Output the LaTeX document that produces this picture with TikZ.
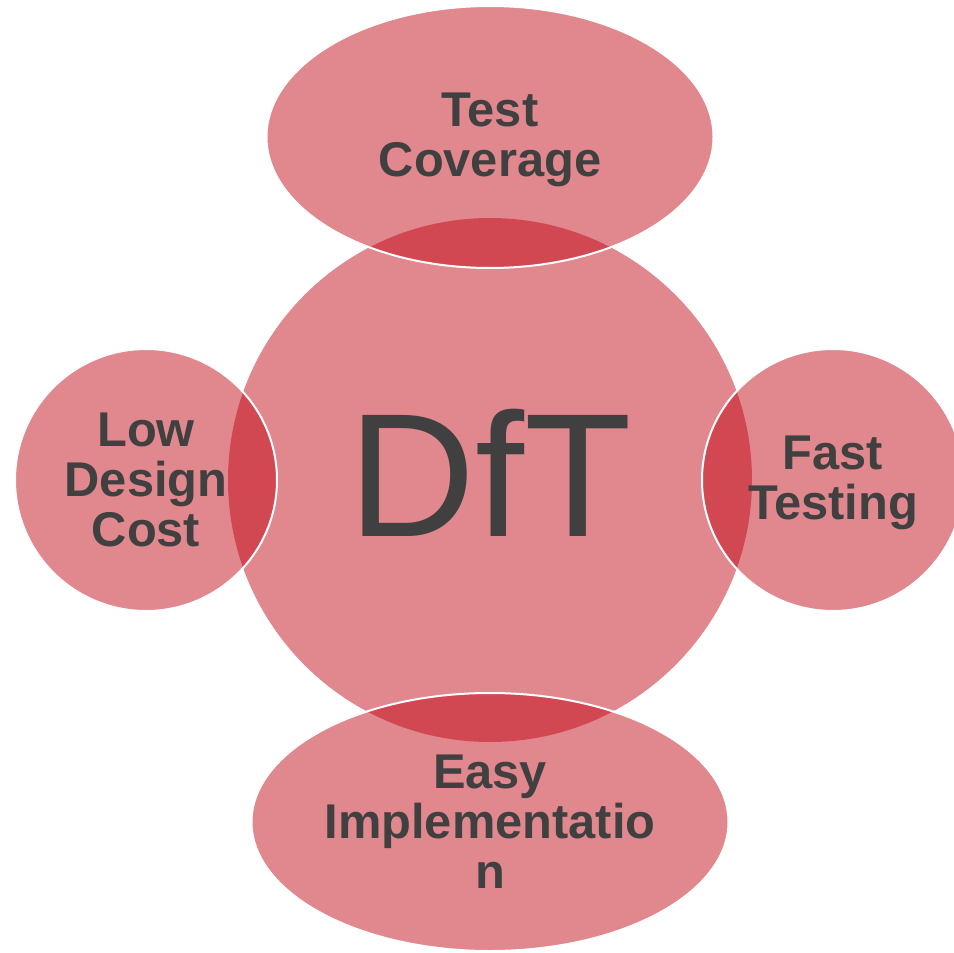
\documentclass[tikz,border=0pt]{standalone}
\usepackage{fontspec}
\setmainfont{Liberation Sans}
\usetikzlibrary{shapes.geometric}
\definecolor{dftred}{RGB}{192,4,18}
\definecolor{dftgray}{RGB}{64,64,64}
\tikzset{
  blob/.style={fill=dftred,fill opacity=0.48,draw=none,inner sep=0pt},
  petal/.style={blob,draw=white,draw opacity=1,line width=1pt},
  lbl/.style={text=dftgray,font=\fontsize{24.4}{25}\selectfont\bfseries,align=center,inner sep=0pt}
}

\begin{document}
\begin{tikzpicture}[x=0.5pt,y=-0.5pt]
	\useasboundingbox (0,0) rectangle (954,953);
	% hub
	\node[blob,circle,minimum size=262pt] (hub) at (490,480) {};
	% satellites, drawn over the hub
	\node[petal,ellipse,minimum width=223.5pt,minimum height=131pt] (top) at (490,137) {};
	\node[petal,ellipse,minimum width=238.5pt,minimum height=129pt] (bot) at (490,822) {};
	\node[petal,circle,minimum size=131pt] (left) at (146,480) {};
	\node[petal,circle,minimum size=131pt] (right) at (833,480) {};
	%
	\node[lbl,font=\fontsize{88}{90}\selectfont] (tHub) at ([yshift=3.5pt]hub.center) {DfT};
	\node[lbl] (tTop) at ([yshift=-1.5pt]top.center) {Test\\Coverage};
	\node[lbl] (tLeft) at (left) {Low\\Design\\Cost};
	\node[lbl] (tRight) at ([yshift=-1.5pt]right.center) {Fast\\Testing};
	\node[lbl] (tBot) at (bot) {Easy\\Implementatio\\n};
\end{tikzpicture}
\end{document}
